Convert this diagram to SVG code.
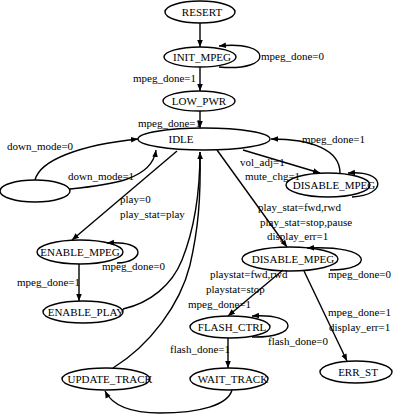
<svg xmlns="http://www.w3.org/2000/svg" width="400" height="414" viewBox="0 0 400 414">
<style>
.n ellipse{fill:#fff;stroke:#000;stroke-width:1.4}
.n text{font-family:"Liberation Serif","Times New Roman",serif;font-size:11px;text-anchor:middle;fill:#000}
.e path{fill:none;stroke:#000;stroke-width:1.4}
.l{font-family:"Liberation Serif","Times New Roman",serif;font-size:11px;fill:#000}
</style>
<defs>
<marker id="a" viewBox="0 0 10 10" refX="10" refY="5" markerWidth="7" markerHeight="7" markerUnits="userSpaceOnUse" orient="auto">
<path d="M0,1 L10,5 L0,9 z" fill="#000"/>
</marker>
</defs>
<rect width="400" height="414" fill="#fff"/>
<g id="nodes" class="n">
<g id="RESERT"><ellipse cx="200" cy="12" rx="35" ry="11"/><text x="202" y="16">RESERT</text></g>
<g id="INIT_MPEG"><ellipse cx="200" cy="57" rx="36" ry="10"/><text x="202" y="61">INIT_MPEG</text></g>
<g id="LOW_PWR"><ellipse cx="199" cy="101" rx="36" ry="10"/><text x="199" y="105">LOW_PWR</text></g>
<g id="IDLE"><ellipse cx="204" cy="139" rx="66" ry="11"/><text x="181" y="143">IDLE</text></g>
<g id="BLANK"><ellipse cx="35" cy="191" rx="35" ry="11"/></g>
<g id="DISABLE_MPEG_1"><ellipse cx="328" cy="185" rx="42" ry="12"/><text x="334" y="189">DISABLE_MPEG</text></g>
<g id="ENABLE_MPEG"><ellipse cx="80" cy="252" rx="43" ry="12"/><text x="80" y="256">ENABLE_MPEG</text></g>
<g id="DISABLE_MPEG_2"><ellipse cx="290" cy="259" rx="48" ry="12"/><text x="293" y="263">DISABLE_MPEG</text></g>
<g id="ENABLE_PLAY"><ellipse cx="83" cy="312" rx="40" ry="11"/><text x="86" y="316">ENABLE_PLAY</text></g>
<g id="FLASH_CTRL"><ellipse cx="230" cy="327" rx="40" ry="11"/><text x="232" y="331">FLASH_CTRL</text></g>
<g id="ERR_ST"><ellipse cx="356" cy="372" rx="36" ry="11"/><text x="358" y="376">ERR_ST</text></g>
<g id="UPDATE_TRACK"><ellipse cx="106" cy="379" rx="44" ry="11"/><text x="110" y="383">UPDATE_TRACK</text></g>
<g id="WAIT_TRACK"><ellipse cx="229" cy="379" rx="39" ry="11"/><text x="233" y="383">WAIT_TRACK</text></g>
</g>
<g id="connectors" class="e">
<path d="M200,23 L200,47" marker-end="url(#a)"/>
<path d="M219,67 C275,72 272,40 219,46" marker-end="url(#a)"/>
<path d="M200,67 L200,91" marker-end="url(#a)"/>
<path d="M200,111 L200,128" marker-end="url(#a)"/>
<path d="M35,180 C40,160 80,145 138,139" marker-end="url(#a)"/>
<path d="M70,189 C110,185 152,180 156,150" marker-end="url(#a)"/>
<path d="M243,150 L320,173" marker-end="url(#a)"/>
<path d="M340,173 C340,150 312,139 271,139" marker-end="url(#a)"/>
<path d="M352,197 C388,195 386,170 348,173" marker-end="url(#a)"/>
<path d="M177,151 L72,240" marker-end="url(#a)"/>
<path d="M117,263 C145,262 148,240 107,243" marker-end="url(#a)"/>
<path d="M79,264 L79,301" marker-end="url(#a)"/>
<path d="M217,150 L287,247" marker-end="url(#a)"/>
<path d="M330,270 C375,270 375,245 307,248" marker-end="url(#a)"/>
<path d="M283,270 L228,316" marker-end="url(#a)"/>
<path d="M304,271 L347,361" marker-end="url(#a)"/>
<path d="M252,337 C300,338 300,313 252,316" marker-end="url(#a)"/>
<path d="M228,338 L228,368" marker-end="url(#a)"/>
<path d="M123,309 C150,303 172,285 182,260 C192,235 200,200 200,152"/>
<path d="M113,368 C150,345 180,305 190,265 C198,230 201,200 200,152" marker-end="url(#a)"/>
<path d="M232,390 C228,405 200,413 160,413 C130,413 112,405 105,391" marker-end="url(#a)"/>
</g>
<g id="labels">
<text class="l" x="261" y="60">mpeg_done=0</text>
<text class="l" x="133" y="82">mpeg_done=1</text>
<text class="l" x="138" y="127">mpeg_done=1</text>
<text class="l" x="7" y="150">down_mode=0</text>
<text class="l" x="68" y="180">down_mode=1</text>
<text class="l" x="302" y="143">mpeg_done=1</text>
<text class="l" x="240" y="166">vol_adj=1</text>
<text class="l" x="245" y="180">mute_chg=1</text>
<text class="l" x="120" y="203">play=0</text>
<text class="l" x="120" y="218">play_stat=play</text>
<text class="l" x="258" y="211">play_stat=fwd,rwd</text>
<text class="l" x="260" y="226">play_stat=stop,pause</text>
<text class="l" x="267" y="240">display_err=1</text>
<text class="l" x="102" y="270">mpeg_done=0</text>
<text class="l" x="17" y="286">mpeg_done=1</text>
<text class="l" x="328" y="278">mpeg_done=0</text>
<text class="l" x="210" y="278">playstat=fwd,rwd</text>
<text class="l" x="206" y="293">playstat=stop</text>
<text class="l" x="188" y="308">mpeg_done=1</text>
<text class="l" x="328" y="316">mpeg_done=1</text>
<text class="l" x="329" y="331">display_err=1</text>
<text class="l" x="268" y="345">flash_done=0</text>
<text class="l" x="170" y="353">flash_done=1</text>
</g>
</svg>
